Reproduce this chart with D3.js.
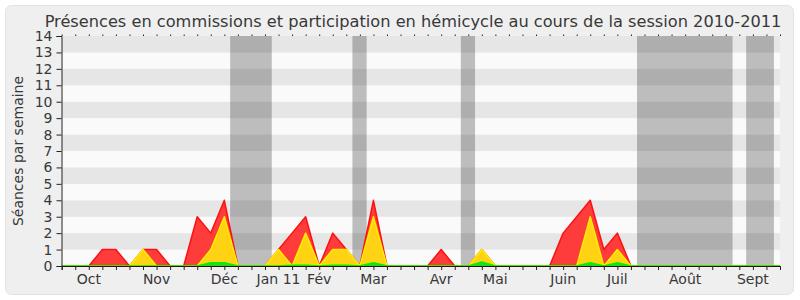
<!DOCTYPE html>
<html lang="fr">
<head>
<meta charset="utf-8">
<title>Présences 2010-2011</title>
<script src="https://cdn.jsdelivr.net/npm/d3@7"></script>
<style>
  body { margin: 0; background: #fff; }
  svg text { font-family: 'DejaVu Sans', sans-serif; fill: #383838; }
</style>
</head>
<body>
<div id="chart"></div>
<script>

/* Data (one value per week, Oct 2010 -> Sept 2011) */
/* ================================================ */

var commissions = [0,0,0,1,1,0,1,1,0,0, 3,2,4,0,0,0,1,2,3,0, 2,1,0,4,0,0,0,0,1,0,
                   0,1,0,0,0,0,0,2,3,4, 1,2,0,0,0,0,0,0,0,0, 0,0,0,0];
var hemicycle   = [0,0,0,0,0,0,1,0,0,0, 0,1,3,0,0,0,1,0,2,0, 1,1,0,3,0,0,0,0,0,0,
                   0,1,0,0,0,0,0,0,0,3, 0,1,0,0,0,0,0,0,0,0, 0,0,0,0];
var interventions = [0,0,0,0,0,0,0,0,0,0, 0,0.2,0.2,0,0,0,0,0.05,0.05,0, 0.05,0.05,0,0.2,0,0,0,0,0,0,
                   0,0.25,0,0,0,0,0,0,0,0.2, 0,0.2,0,0,0,0,0,0,0,0, 0,0,0,0];

// parliamentary holidays, in week units
var vacances = [[12.43, 15.5], [21.45, 22.5], [29.45, 30.5], [42.45, 49.5], [50.5, 52.55]];

// month labels and the week they sit under
var monthLabels = ['Oct', 'Nov', 'Déc', 'Jan 11', 'Fév', 'Mar', 'Avr', 'Mai', 'Juin', 'Juil', 'Août', 'Sept'];
var monthWeeks  = [2, 7, 12, 16, 19, 23, 28, 32, 37, 41, 46, 51];

var yTicks = d3.range(0, 15);


/* Setup */
/* ===== */

var width = 800,
    height = 300;

var svg = d3.select('#chart').append('svg')
    .attr('width', width)
    .attr('height', height);

var x = d3.scaleLinear()
    .domain([0, commissions.length - 1])
    .range([61.7, 780]);

var y = d3.scaleLinear()
    .domain([0, 14])
    .range([266, 36]);

// Panel
svg.append('rect')
    .attr('x', 5.5).attr('y', 5.5)
    .attr('width', 788).attr('height', 289)
    .attr('rx', 6)
    .attr('fill', '#efefef')
    .attr('stroke', '#e2e2e2');

// Title
svg.append('text')
    .attr('x', 413)
    .attr('y', 27)
    .attr('text-anchor', 'middle')
    .style('font-size', '16.2px')
    .text('Présences en commissions et participation en hémicycle au cours de la session 2010-2011');


/* Plot background */
/* --------------- */

var plot = svg.append('g');

plot.selectAll('rect.band')
  .data(d3.range(0, 14))
  .join('rect')
    .attr('class', 'band')
    .attr('x', x.range()[0])
    .attr('width', x.range()[1] - x.range()[0])
    .attr('y', function(d) { return y(d + 1); })
    .attr('height', function(d) { return y(d) - y(d + 1); })
    .attr('fill', function(d) { return d % 2 ? '#e6e6e6' : '#fafafa'; });

plot.selectAll('rect.vac')
  .data(vacances)
  .join('rect')
    .attr('class', 'vac')
    .attr('x', function(d) { return x(d[0]); })
    .attr('width', function(d) { return x(d[1]) - x(d[0]); })
    .attr('y', y(14))
    .attr('height', y(0) - y(14))
    .attr('fill', 'rgba(0,0,0,0.245)');


/* Series */
/* ------ */

function drawSeries(values, fill, stroke) {

  var area = d3.area()
      .x(function(d, i) { return x(i); })
      .y0(y(0))
      .y1(function(d) { return y(d); });

  var line = d3.line()
      .x(function(d, i) { return x(i); })
      .y(function(d) { return y(d); });

  plot.append('path')
      .datum(values)
      .attr('d', area)
      .attr('fill', fill);

  plot.append('path')
      .datum(values)
      .attr('d', line)
      .attr('fill', 'none')
      .attr('stroke', stroke)
      .attr('stroke-width', 1.5)
      .attr('stroke-linejoin', 'round');

}

drawSeries(commissions, '#ff3c3c', '#ff1010');
drawSeries(hemicycle, '#ffd214', '#ffee00');
drawSeries(interventions, '#22d822', '#00f000');


/* Axes */
/* ---- */

var xAxis = d3.axisBottom(x)
    .tickValues(d3.range(0, commissions.length))
    .tickSize(4)
    .tickFormat('');

svg.append('g')
    .attr('transform', 'translate(0,' + y(0) + ')')
    .call(xAxis)
    .call(function(g) {
      g.select('.domain').attr('stroke', '#2a1408');
      g.selectAll('.tick line').attr('stroke', '#222');
    });

// little dots along the top edge
svg.append('g')
    .attr('transform', 'translate(0,' + y(14) + ')')
    .call(d3.axisTop(x).tickValues(d3.range(0, commissions.length)).tickSize(1.5).tickFormat(''))
    .call(function(g) {
      g.select('.domain').remove();
      g.selectAll('.tick line').attr('stroke', '#222');
    });

svg.selectAll('text.month')
  .data(monthLabels)
  .join('text')
    .attr('class', 'month')
    .attr('x', function(d, i) { return x(monthWeeks[i]); })
    .attr('y', 284)
    .attr('text-anchor', 'middle')
    .style('font-size', '14px')
    .text(function(d) { return d; });

var yAxis = d3.axisLeft(y)
    .tickValues(yTicks)
    .tickSize(5)
    .tickPadding(4);

svg.append('g')
    .attr('transform', 'translate(' + 61.5 + ',0)')
    .call(yAxis)
    .call(function(g) {
      g.select('.domain').attr('stroke', '#222');
      g.selectAll('.tick line').attr('stroke', '#222');
      g.selectAll('.tick text')
        .style('font-size', '14px')
        .style('font-family', "'DejaVu Sans', sans-serif")
        .attr('fill', '#383838');
    });

svg.append('text')
    .attr('transform', 'translate(23,' + ((y(0) + y(14)) / 2) + ') rotate(-90)')
    .attr('text-anchor', 'middle')
    .style('font-size', '14px')
    .text('Séances par semaine');

</script>
</body>
</html>
